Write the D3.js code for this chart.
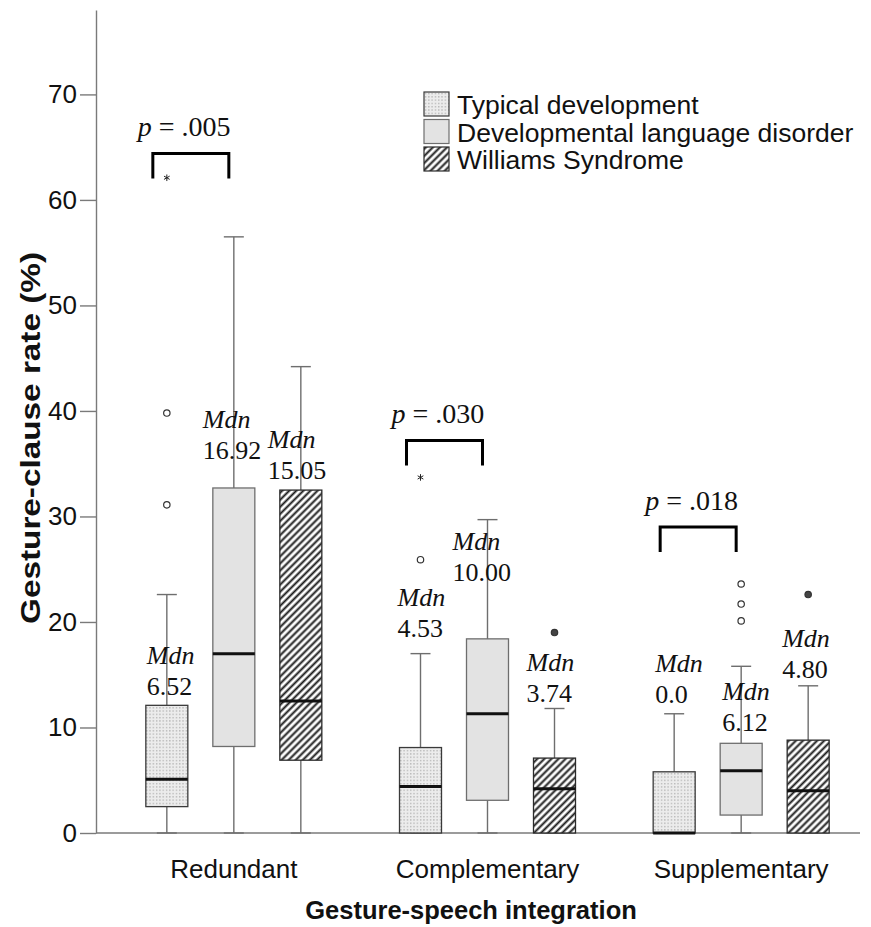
<!DOCTYPE html>
<html lang="en">
<head>
  <meta charset="UTF-8">
  <title>Gesture-clause rate</title>
  <script src="https://d3js.org/d3.v7.min.js"></script>
  <style>
    body { margin: 0; background: #fff; }
    .sans { font-family: 'Liberation Sans', Arial, sans-serif; }
    .serif { font-family: 'Liberation Serif', 'Times New Roman', serif; }
  </style>
</head>
<body>
  <div class="chart"></div>
  <script>
    // data
    const categories = ['Redundant', 'Complementary', 'Supplementary'];
    const groups = ['Typical development', 'Developmental language disorder', 'Williams Syndrome'];
    // each row = category, each column = group
    const lowerWhisker = [[0, 0, 0], [0, 0, 0], [0, 0, 0]];
    const q1 = [[2.5, 8.2, 6.9], [0, 3.1, 0], [0, 1.7, 0]];
    const medians = [[5.1, 17.0, 12.5], [4.4, 11.3, 4.2], [0, 5.9, 4.0]];
    const q3 = [[12.1, 32.7, 32.5], [8.1, 18.4, 7.1], [5.8, 8.5, 8.8]];
    const upperWhisker = [[22.6, 56.5, 44.2], [17.0, 29.7, 11.8], [11.3, 15.8, 13.95]];
    const outliers = [[[39.8, 31.1], [], []], [[25.9], [], [19.0]], [[], [23.6, 21.7, 20.1], [22.6]]];
    const extremes = [[[62.1], [], []], [[33.7], [], []], [[], [], []]];
    const mdnText = [['6.52', '16.92', '15.05'], ['4.53', '10.00', '3.74'], ['0.0', '6.12', '4.80']];
    const pValues = ['.005', '.030', '.018'];
    const yTicks = [0, 10, 20, 30, 40, 50, 60, 70];

    // annotation placement (in axis units / pixel offsets)
    const mdnAt = [[16.0, 38.4, 36.5], [21.5, 26.8, 15.4], [15.3, 12.6, 17.6]];
    const mdnDx = [[-20, -31, -33], [-23, -35, -28], [-19, -19, -26]];
    const bracketAt = [64.4, 37.2, 29.0];

    const W = 871, H = 927;
    const svg = d3.select('.chart').append('svg').attr('width', W).attr('height', H);

    const y = d3.scaleLinear().domain([0, 78]).range([833, 10]);
    const x = d3.scaleBand().domain(categories).range([107, 868]);
    const gx = d3.scalePoint().domain(groups).range([-67, 67]);
    const cx = (ci, gi) => x(categories[ci]) + x.bandwidth() / 2 + gx(groups[gi]);
    const boxW = 42;

    // patterns
    const defs = svg.append('defs');
    const dots = defs.append('pattern').attr('id', 'dots').attr('patternUnits', 'userSpaceOnUse')
      .attr('width', 3.3).attr('height', 3.3);
    dots.append('rect').attr('width', 3.3).attr('height', 3.3).attr('fill', '#ececec');
    dots.append('rect').attr('x', 1).attr('y', 1).attr('width', 1.1).attr('height', 1.1).attr('fill', '#9a9a9a');
    const hatch = defs.append('pattern').attr('id', 'hatch').attr('patternUnits', 'userSpaceOnUse')
      .attr('width', 5).attr('height', 5).attr('patternTransform', 'rotate(45)');
    hatch.append('rect').attr('width', 5).attr('height', 5).attr('fill', '#fff');
    hatch.append('line').attr('x1', 1.5).attr('x2', 1.5).attr('y1', 0).attr('y2', 5)
      .attr('stroke', '#1a1a1a').attr('stroke-width', 2);

    const fills = ['url(#dots)', '#e3e3e3', 'url(#hatch)'];
    const strokes = ['#3a3a3a', '#6e6e6e', '#2a2a2a'];

    // axes
    const yAxis = svg.append('g').attr('transform', 'translate(96,0)')
      .call(d3.axisLeft(y).tickValues(yTicks).tickSize(16).tickSizeOuter(0).tickPadding(3));
    yAxis.selectAll('path, line').attr('stroke', '#7a7a7a').attr('stroke-width', 1.4);
    yAxis.selectAll('text').attr('class', 'sans').attr('font-size', 26).attr('fill', '#111');

    const xAxis = svg.append('g').attr('transform', `translate(0,${y(0)})`)
      .call(d3.axisBottom(x).tickSize(0).tickPadding(27));
    xAxis.select('.domain').remove();
    xAxis.selectAll('text').attr('class', 'sans').attr('font-size', 26).attr('fill', '#111');
    svg.append('line').attr('x1', 96).attr('x2', 860).attr('y1', y(0)).attr('y2', y(0))
      .attr('stroke', '#7a7a7a').attr('stroke-width', 1.4);

    // boxes
    const cells = [];
    categories.forEach((c, ci) => groups.forEach((g, gi) => cells.push({ ci, gi })));

    const box = svg.append('g').selectAll('g').data(cells).join('g');
    box.append('line')
      .attr('x1', d => cx(d.ci, d.gi)).attr('x2', d => cx(d.ci, d.gi))
      .attr('y1', d => y(lowerWhisker[d.ci][d.gi])).attr('y2', d => y(upperWhisker[d.ci][d.gi]))
      .attr('stroke', '#6e6e6e').attr('stroke-width', 1.4);
    box.each(function (d) {
      const sel = d3.select(this);
      [lowerWhisker[d.ci][d.gi], upperWhisker[d.ci][d.gi]].forEach(v => {
        sel.append('line').attr('x1', cx(d.ci, d.gi) - 10).attr('x2', cx(d.ci, d.gi) + 10)
          .attr('y1', y(v)).attr('y2', y(v)).attr('stroke', '#6e6e6e').attr('stroke-width', 1.4);
      });
    });
    box.append('rect')
      .attr('x', d => cx(d.ci, d.gi) - boxW / 2).attr('width', boxW)
      .attr('y', d => y(q3[d.ci][d.gi])).attr('height', d => y(q1[d.ci][d.gi]) - y(q3[d.ci][d.gi]))
      .attr('fill', d => fills[d.gi]).attr('stroke', d => strokes[d.gi]).attr('stroke-width', 1.3);
    box.append('line')
      .attr('x1', d => cx(d.ci, d.gi) - boxW / 2).attr('x2', d => cx(d.ci, d.gi) + boxW / 2)
      .attr('y1', d => y(medians[d.ci][d.gi])).attr('y2', d => y(medians[d.ci][d.gi]))
      .attr('stroke', '#111').attr('stroke-width', 3);

    // outliers and extremes
    box.each(function (d) {
      const sel = d3.select(this);
      outliers[d.ci][d.gi].forEach(v => {
        sel.append('circle').attr('cx', cx(d.ci, d.gi)).attr('cy', y(v)).attr('r', 3.2)
          .attr('fill', d.gi === 2 ? '#444' : '#fff').attr('stroke', '#333').attr('stroke-width', 1.2);
      });
      extremes[d.ci][d.gi].forEach(v => {
        sel.append('path').attr('d', d3.symbol(d3.symbolAsterisk, 30)())
          .attr('transform', `translate(${cx(d.ci, d.gi)},${y(v)})`)
          .attr('stroke', '#222').attr('stroke-width', 1).attr('fill', 'none');
      });
    });

    // median labels
    const lab = svg.append('g').attr('class', 'serif').attr('font-size', 26).attr('fill', '#111')
      .selectAll('text').data(cells).join('text')
      .attr('x', d => cx(d.ci, d.gi) + mdnDx[d.ci][d.gi])
      .attr('y', d => y(mdnAt[d.ci][d.gi]));
    lab.append('tspan').attr('font-style', 'italic').text('Mdn');
    lab.append('tspan').attr('x', d => cx(d.ci, d.gi) + mdnDx[d.ci][d.gi]).attr('dy', 31)
      .text(d => mdnText[d.ci][d.gi]);

    // p-value brackets
    const br = svg.append('g').selectAll('g').data(categories).join('g');
    br.append('path')
      .attr('d', (c, ci) => {
        const l = cx(ci, 0) - 14, r = cx(ci, 1) - 5, t = y(bracketAt[ci]);
        return `M${l},${t + 25}V${t}H${r}V${t + 25}`;
      })
      .attr('fill', 'none').attr('stroke', '#000').attr('stroke-width', 3);
    const pt = br.append('text').attr('class', 'serif').attr('font-size', 28).attr('fill', '#111')
      .attr('x', (c, ci) => cx(ci, 0) - 29).attr('y', (c, ci) => y(bracketAt[ci]) - 17);
    pt.append('tspan').attr('font-style', 'italic').text('p');
    pt.append('tspan').text((c, ci) => ' = ' + pValues[ci]);

    // legend
    const lg = svg.append('g').attr('transform', 'translate(424,92)')
      .selectAll('g').data(groups).join('g').attr('transform', (d, i) => `translate(0,${i * 27.5})`);
    lg.append('rect').attr('width', 25).attr('height', 24)
      .attr('fill', (d, i) => fills[i]).attr('stroke', (d, i) => strokes[i]).attr('stroke-width', 1.2);
    lg.append('text').attr('class', 'sans').attr('x', 33).attr('y', 22)
      .attr('font-size', 26.5).attr('fill', '#111').text(d => d);

    // axis titles
    svg.append('text').attr('class', 'sans').attr('font-weight', 'bold').attr('font-size', 28)
      .attr('text-anchor', 'middle').attr('transform', 'translate(40,438) rotate(-90)')
      .attr('textLength', 372).attr('lengthAdjust', 'spacingAndGlyphs')
      .attr('fill', '#111').text('Gesture-clause rate (%)');
    svg.append('text').attr('class', 'sans').attr('font-weight', 'bold').attr('font-size', 25.5)
      .attr('text-anchor', 'middle').attr('x', 471).attr('y', 919)
      .attr('fill', '#111').text('Gesture-speech integration');
  </script>
</body>
</html>
